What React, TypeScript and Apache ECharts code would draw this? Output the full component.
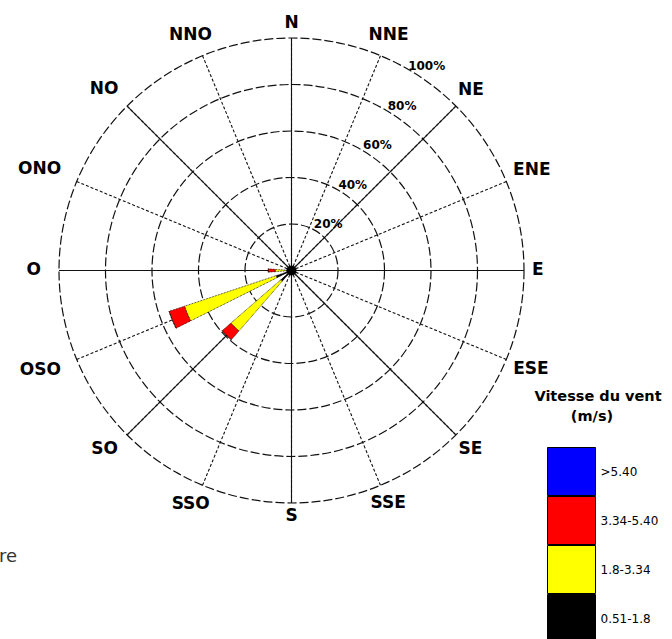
import React, { useEffect, useRef } from "react";
import * as echarts from "echarts";

const directions = ["N", "NNE", "NE", "ENE", "E", "ESE", "SE", "SSE", "S", "SSO", "SO", "OSO", "O", "ONO", "NO", "NNO"];
const speedClasses = ["0.51-1.8", "1.8-3.34", "3.34-5.40", ">5.40"];
const classColors = ["#000000", "#FFFF00", "#FF0000", "#0000FF"];
const legendOrder = [">5.40", "3.34-5.40", "1.8-3.34", "0.51-1.8"];
// frequency (%) per direction, per speed class
const freq051to18 = [0, 0, 0, 0, 0, 0, 0, 0, 0, 0, 6, 7, 2, 0, 0, 0];
const freq18to334 = [0, 0, 0, 0, 0, 0, 0, 0, 0, 0, 28.5, 41.5, 5, 0, 0, 0];
const freq334to540 = [0, 0, 0, 0, 0, 0, 0, 0, 0, 0, 5, 7, 3, 0, 0, 0];
const freqOver540 = [0, 0, 0, 0, 0, 0, 0, 0, 0, 0, 0, 0, 0, 0, 0, 0];
const classValues = [freq051to18, freq18to334, freq334to540, freqOver540];
const radiusTicks = [20, 40, 60, 80, 100];
const radiusTickLabels = ["20%", "40%", "60%", "80%", "100%"];
const radiusLabelAngle = 32;

const FONT = "DejaVu Sans";

export default function App() {
  const ref = useRef<HTMLDivElement>(null);
  useEffect(() => {
    if (!ref.current) return;
    const chart = echarts.init(ref.current, null, { renderer: "svg" });
    const C = [291.5, 270.5];
    const R = 232.5;
    const gridColor = "#111111";
    const dirFont = `bold 17px "${FONT}"`;

    // direction label placement: text box just clear of the outer circle
    const ctx = document.createElement("canvas").getContext("2d");
    if (ctx) ctx.font = dirFont;
    const gap = 8;
    const halfH = 6;
    const dirLabelPoints = directions.map((d, i) => {
      const a = (i * 22.5 * Math.PI) / 180;
      const w = ctx ? ctx.measureText(d).width : d.length * 12;
      const px = R + gap + (w / 2) * Math.abs(Math.sin(a)) + halfH * Math.abs(Math.cos(a));
      return [(px / R) * 100, i * 22.5];
    });

    const plainLabel = { textBorderWidth: 0, textBorderColor: "transparent", textShadowBlur: 0 };

    const option: any = {
      animation: false,
      backgroundColor: "#ffffff",
      polar: [
        { center: C, radius: R },
        { center: C, radius: R },
        { center: C, radius: R },
      ],
      angleAxis: [
        {
          polarIndex: 0,
          type: "category",
          data: directions,
          startAngle: 90 + 11.25,
          clockwise: true,
          axisLine: { show: false },
          axisTick: { show: false },
          splitLine: { show: false },
          axisLabel: { show: false },
        },
        {
          polarIndex: 1,
          type: "value",
          min: 0,
          max: 360,
          interval: 22.5,
          startAngle: 90,
          clockwise: true,
          axisLine: { show: false },
          axisTick: { show: false },
          axisLabel: { show: false },
          splitLine: { show: true, lineStyle: { color: gridColor, width: 1.1, type: [3, 2] } },
        },
        {
          polarIndex: 2,
          type: "value",
          min: 0,
          max: 360,
          interval: 45,
          startAngle: 90,
          clockwise: true,
          axisLine: { show: false },
          axisTick: { show: false },
          axisLabel: { show: false },
          splitLine: { show: true, lineStyle: { color: gridColor, width: 1.1, type: "solid" } },
        },
      ],
      radiusAxis: [
        {
          polarIndex: 0,
          type: "value",
          min: 0,
          max: 100,
          interval: 20,
          axisLine: { show: false },
          axisTick: { show: false },
          axisLabel: { show: false },
          splitLine: { show: false },
        },
        {
          polarIndex: 1,
          type: "value",
          min: 0,
          max: 100,
          interval: 20,
          axisLine: { show: false },
          axisTick: { show: false },
          axisLabel: { show: false },
          splitLine: { show: true, lineStyle: { color: gridColor, width: 1.2, type: [9, 3] } },
        },
        {
          polarIndex: 2,
          type: "value",
          min: 0,
          max: 100,
          interval: 20,
          axisLine: { show: false },
          axisTick: { show: false },
          axisLabel: { show: false },
          splitLine: { show: false },
        },
      ],
      legend: {
        orient: "vertical",
        left: 547,
        top: 447,
        height: 260,
        padding: 0,
        itemGap: 0,
        itemWidth: 48,
        itemHeight: 48,
        icon: "rect",
        selectedMode: false,
        data: legendOrder,
        itemStyle: { borderColor: "#000", borderWidth: 1, borderType: "solid" },
        textStyle: { fontFamily: FONT, fontSize: 12, color: "#000" },
      },
      graphic: [
        {
          type: "text",
          x: 598,
          y: 396,
          style: { text: "Vitesse du vent", font: `bold 14.5px "${FONT}"`, fill: "#000", textAlign: "center", textVerticalAlign: "middle" },
        },
        {
          type: "text",
          x: 592,
          y: 416,
          style: { text: "(m/s)", font: `bold 14.5px "${FONT}"`, fill: "#000", textAlign: "center", textVerticalAlign: "middle" },
        },
        {
          type: "text",
          x: 17,
          y: 555,
          style: { text: "re", font: `18px "${FONT}"`, fill: "#333", textAlign: "right", textVerticalAlign: "middle" },
        },
      ],
      series: [
        ...speedClasses.map((name, i) => ({
          type: "bar",
          name,
          coordinateSystem: "polar",
          polarIndex: 0,
          stack: "rose",
          barWidth: "36%",
          data: classValues[i],
          itemStyle: { color: classColors[i], borderColor: "#000", borderWidth: 0.8, borderType: "dotted" },
          z: 3,
        })),
        {
          type: "scatter",
          name: "direction-labels",
          coordinateSystem: "polar",
          polarIndex: 1,
          clip: false,
          symbolSize: 0,
          itemStyle: { opacity: 1 },
          data: dirLabelPoints.map((p, i) => {
            const a = (i * 22.5 * Math.PI) / 180;
            const leftness = Math.max(0, -Math.sin(a));
            return { value: p, label: { offset: [-10 * leftness, -2] } };
          }),
          label: {
            show: true,
            position: "inside",
            formatter: (p: any) => directions[p.dataIndex],
            fontFamily: FONT,
            fontWeight: "bold",
            fontSize: 17,
            color: "#000",
            ...plainLabel,
          },
          silent: true,
          z: 5,
        },
        {
          type: "scatter",
          name: "radius-labels",
          coordinateSystem: "polar",
          polarIndex: 1,
          clip: false,
          symbolSize: 0,
          itemStyle: { opacity: 1 },
          data: radiusTicks.map((r) => [r, radiusLabelAngle]),
          label: {
            show: true,
            position: "inside",
            offset: [12, -7],
            formatter: (p: any) => radiusTickLabels[p.dataIndex],
            fontFamily: FONT,
            fontWeight: "bold",
            fontSize: 12,
            color: "#000",
            ...plainLabel,
          },
          silent: true,
          z: 5,
        },
        {
          type: "scatter",
          name: "center",
          coordinateSystem: "polar",
          polarIndex: 1,
          symbolSize: 10,
          data: [[0, 0]],
          itemStyle: { color: "#000", opacity: 1 },
          silent: true,
          z: 6,
        },
      ],
    };
    chart.setOption(option);
    return () => chart.dispose();
  }, []);
  return (
    <div
      ref={ref}
      style={{ position: "absolute", left: 0, top: 0, width: 672, height: 639, background: "#fff" }}
    />
  );
}
